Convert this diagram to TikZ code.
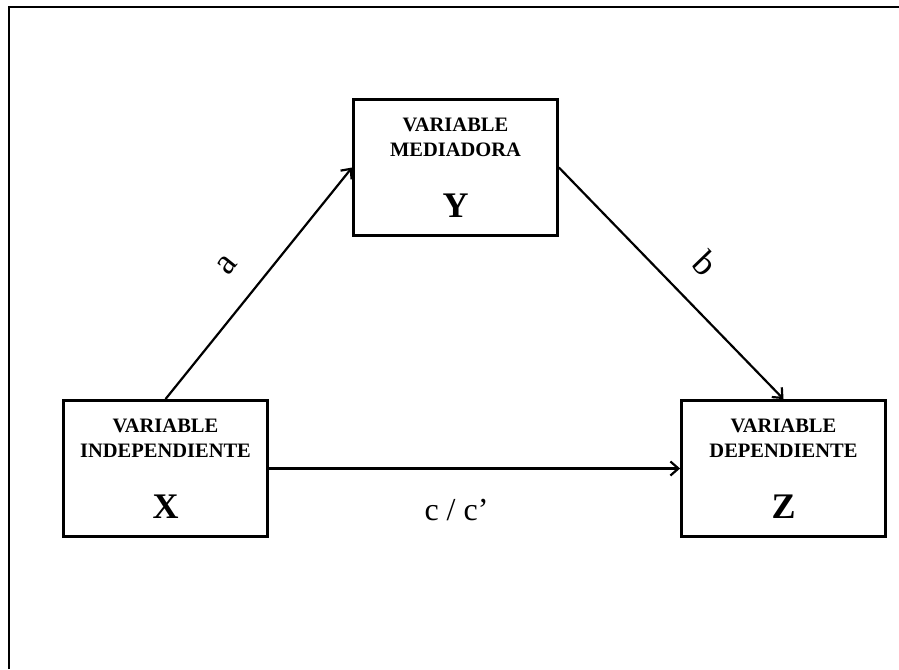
\documentclass[tikz,border=0pt]{standalone}
\usepackage{fontspec}
\setmainfont{Liberation Serif}
\usetikzlibrary{positioning,arrows.meta}

\begin{document}
\begin{tikzpicture}[x=1pt,y=-1pt,
    % define styles
    box/.style={
        draw,
        line width=2.8pt,
        minimum width=204pt,
        minimum height=136pt,
        inner sep=0pt,
        align=center,
        font=\fontsize{20.5}{25}\selectfont\bfseries
    },
    arr/.style={
        -{Straight Barb[length=8pt,width=14pt]},
        line width=2.2pt
    },
    coef/.style={
        font=\fontsize{36}{40}\selectfont,
        inner sep=0pt
    }
]
\useasboundingbox (0,0) rectangle (899,669);
% outer frame (top and left only)
\draw[line width=2.8pt] (9,669) -- (9,7) -- (899,7);

% the three variables
\node[box] at (455.5,167.5) (med) {VARIABLE\\MEDIADORA\\[36pt]{\fontsize{36}{36}\selectfont Y}};
\node[box] at (165.5,468.5) (ind) {VARIABLE\\INDEPENDIENTE\\[36pt]{\fontsize{36}{36}\selectfont X}};
\node[box] at (783.5,468.5) (dep) {VARIABLE\\DEPENDIENTE\\[36pt]{\fontsize{36}{36}\selectfont Z}};

% paths a, b and c / c'
\draw[arr] (ind.north) -- node[coef,sloped,above=26pt,pos=0.48] (a) {a} (med.west);
\draw[arr] (med.east) -- node[coef,sloped,above=25pt,pos=0.53] (b) {b} (dep.north);
\draw[arr] (ind.east) -- node[coef,font=\fontsize{32}{36}\selectfont,below=30pt,xshift=-18pt] (c) {c / c’} (dep.west);
\end{tikzpicture}
\end{document}
